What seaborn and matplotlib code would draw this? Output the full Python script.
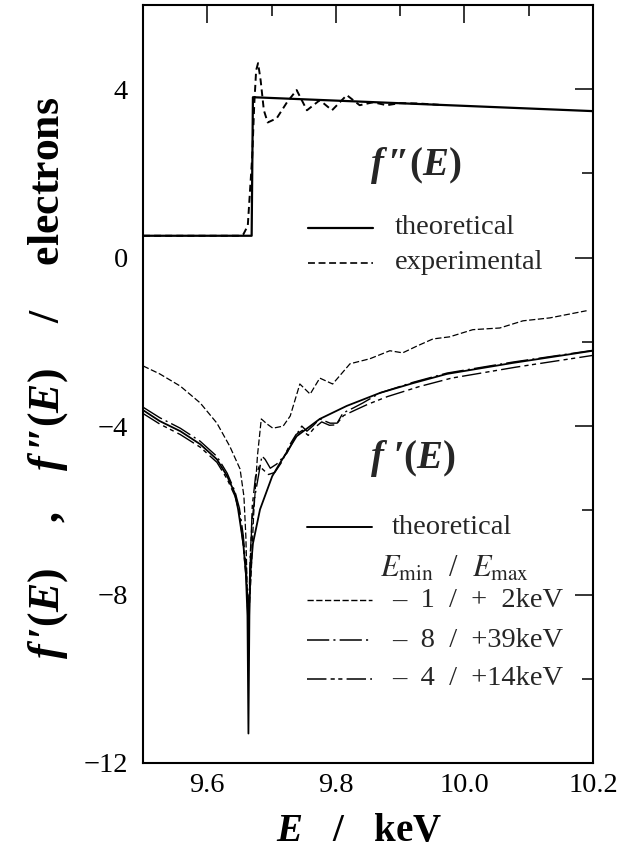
import matplotlib
matplotlib.use("Agg")
import matplotlib.pyplot as plt
import seaborn as sns

# ---- f''(E): theoretical step and measured absorption ----
fpp_theo_E = [9.500, 9.669, 9.671, 10.200]
fpp_theo_v = [0.52, 0.52, 3.81, 3.48]

fpp_exp_E = [9.500, 9.650, 9.656, 9.663, 9.666, 9.670, 9.673, 9.676, 9.679, 9.683,
             9.688, 9.694, 9.708, 9.724, 9.739, 9.755, 9.775, 9.794, 9.817, 9.837,
             9.858, 9.879, 9.900, 9.930, 9.960]
fpp_exp_v = [0.52, 0.52, 0.55, 0.76, 1.48, 2.43, 3.62, 4.45, 4.62, 4.21,
             3.50, 3.21, 3.31, 3.69, 3.98, 3.50, 3.74, 3.50, 3.86, 3.62,
             3.69, 3.62, 3.67, 3.66, 3.63]

# ---- f'(E): theoretical curve ----
fp_theo_E = [9.500, 9.526, 9.558, 9.589, 9.615, 9.631, 9.643, 9.648, 9.656, 9.660,
             9.6625, 9.664, 9.6655, 9.667, 9.671, 9.682, 9.701, 9.713, 9.739, 9.775,
             9.817, 9.869, 9.920, 9.973, 10.075, 10.200]
fp_theo_v = [-3.62, -3.88, -4.12, -4.43, -4.79, -5.19, -5.60, -5.98, -6.79, -7.50,
             -8.50, -11.30, -8.50, -7.50, -6.79, -5.98, -5.19, -4.88, -4.24, -3.83,
             -3.52, -3.21, -2.98, -2.76, -2.50, -2.21]

# ---- f'(E) from Kramers-Kronig, Emin/Emax = -1/+2 keV ----
fp_k2_E = [9.500, 9.526, 9.558, 9.589, 9.615, 9.635, 9.651, 9.657, 9.660, 9.662,
           9.665, 9.668, 9.672, 9.678, 9.684, 9.693, 9.702, 9.718, 9.729, 9.744,
           9.760, 9.775, 9.795, 9.822, 9.853, 9.884, 9.904, 9.926, 9.951, 9.977,
           10.013, 10.055, 10.091, 10.133, 10.190]
fp_k2_v = [-2.57, -2.76, -3.05, -3.45, -3.93, -4.48, -5.02, -5.67, -6.62, -7.80,
           -8.40, -7.60, -6.14, -4.71, -3.83, -3.95, -4.05, -4.00, -3.76, -3.00,
           -3.24, -2.86, -3.00, -2.52, -2.40, -2.21, -2.26, -2.10, -1.93, -1.88,
           -1.71, -1.67, -1.50, -1.43, -1.26]

# ---- Emin/Emax = -8/+39 keV ----
fp_k39_E = [9.500, 9.526, 9.558, 9.589, 9.615, 9.631, 9.643, 9.650, 9.656, 9.661,
            9.664, 9.667, 9.670, 9.674, 9.685, 9.690, 9.698, 9.708, 9.724, 9.740,
            9.747, 9.755, 9.764, 9.775, 9.791, 9.802, 9.811, 9.827, 9.842, 9.869,
            9.920, 9.973, 10.075, 10.200]
fp_k39_v = [-3.55, -3.80, -4.05, -4.36, -4.72, -5.12, -5.55, -5.95, -6.60, -7.50,
            -8.60, -7.00, -6.20, -5.67, -4.71, -4.79, -5.00, -4.90, -4.64, -4.17,
            -4.00, -4.12, -4.00, -3.83, -3.93, -3.93, -3.69, -3.57, -3.45, -3.21,
            -2.96, -2.74, -2.48, -2.20]

# ---- Emin/Emax = -4/+14 keV ----
fp_k14_E = [9.500, 9.526, 9.558, 9.589, 9.615, 9.631, 9.643, 9.650, 9.656, 9.661,
            9.664, 9.667, 9.670, 9.675, 9.681, 9.688, 9.695, 9.705, 9.716, 9.728,
            9.738, 9.748, 9.757, 9.766, 9.778, 9.790, 9.800, 9.812, 9.830, 9.850,
            9.880, 9.930, 9.980, 10.080, 10.200]
fp_k14_v = [-3.70, -3.95, -4.20, -4.50, -4.86, -5.26, -5.66, -6.05, -6.85, -7.70,
            -8.80, -7.20, -5.90, -5.20, -4.95, -5.05, -5.15, -5.10, -4.85, -4.45,
            -4.20, -4.10, -4.22, -4.05, -3.90, -3.98, -3.97, -3.75, -3.62, -3.48,
            -3.30, -3.06, -2.86, -2.60, -2.32]

x_major = [9.6, 9.8, 10.0, 10.2]
x_major_labels = ["9.6", "9.8", "10.0", "10.2"]
x_minor = [9.7, 9.9, 10.1]
y_major = [-12, -8, -4, 0, 4]
y_major_labels = ["\u221212", "\u22128", "\u22124", "0", "4"]
y_minor = [-10, -6, -2, 2]

sns.set_theme(style="white")
plt.rcParams["font.family"] = ["Liberation Serif", "DejaVu Serif"]
plt.rcParams["mathtext.fontset"] = "custom"
plt.rcParams["mathtext.rm"] = "Liberation Serif:bold"
plt.rcParams["mathtext.it"] = "Liberation Serif:italic:bold"
plt.rcParams["mathtext.bf"] = "Liberation Serif:bold"
plt.rcParams["lines.scale_dashes"] = False

fig = plt.figure(figsize=(6.26, 8.5), dpi=100)
ax = fig.add_axes([143 / 626, 1 - 763 / 850, 450 / 626, 758 / 850])

ls_exp = (0, (5.0, 3.0))
ls_k2 = (0, (4.5, 1.8))
ls_k39 = (0, (16, 3, 1.5, 3))
ls_k14 = (0, (14, 3, 3, 2.5, 3, 3))

def curve(E, v, lw, ls):
    sns.lineplot(x=E, y=v, ax=ax, color="black", linewidth=lw, linestyle=ls,
                 estimator=None, sort=False)

curve(fpp_theo_E, fpp_theo_v, 1.6, "-")
curve(fpp_exp_E, fpp_exp_v, 1.4, ls_exp)
curve(fp_k2_E, fp_k2_v, 0.9, ls_k2)
curve(fp_k39_E, fp_k39_v, 1.0, ls_k39)
curve(fp_k14_E, fp_k14_v, 1.0, ls_k14)
curve(fp_theo_E, fp_theo_v, 1.3, "-")

ax.set_xlim(9.5, 10.2)
ax.set_ylim(-12, 6)
ax.set_xticks(x_major)
ax.set_xticklabels(x_major_labels)
ax.set_xticks(x_minor, minor=True)
ax.set_yticks(y_major)
ax.set_yticklabels(y_major_labels)
ax.set_yticks(y_minor, minor=True)
ax.tick_params(which="both", direction="in", top=True, right=True,
               color="black", width=1.1, labelsize=20.5, labelcolor="black")
ax.tick_params(which="major", length=13)
ax.tick_params(which="minor", length=8)
ax.tick_params(axis="x", which="major", pad=7)
ax.tick_params(axis="y", which="major", pad=11)
for s in ax.spines.values():
    s.set_color("black")
    s.set_linewidth(1.5)

ax.set_xlabel(r"$E\ \ \ /\ \ \ \mathrm{keV}$", fontsize=28, color="black")
ax.xaxis.set_label_coords(0.48, -0.066)
ax.set_ylabel("$f\\,\u2032(E)\\ \\ \\ \\ ,\\ \\ \\ f\\,\u2033(E)\\ \\ \\ \\ /\\ \\ \\ \\ \\mathrm{electrons}$",
              fontsize=31.5, color="black")
ax.yaxis.set_label_coords(-0.163, 0.508)

# curve names
ax.text(9.925, 2.20, "$f\\,\u2033(E)$", fontsize=28, ha="center", va="center")
ax.text(9.920, -4.78, "$f\\ \u2032(E)$", fontsize=28, ha="center", va="center")

# legend for f''
T = ax.transAxes
fs = 20.5
ax.plot([0.367, 0.511], [0.706, 0.706], transform=T, color="black", lw=1.6)
ax.text(0.56, 0.706, "theoretical", transform=T, fontsize=fs, va="center")
ax.plot([0.367, 0.511], [0.660, 0.660], transform=T, color="black", lw=1.2,
        linestyle=(0, (5.0, 2.6)))
ax.text(0.56, 0.660, "experimental", transform=T, fontsize=fs, va="center")

# legend for f'
ax.plot([0.364, 0.509], [0.311, 0.311], transform=T, color="black", lw=1.4)
ax.text(0.553, 0.311, "theoretical", transform=T, fontsize=fs, va="center")
ax.text(0.527, 0.256, r"$E_{\mathrm{min}}$  /  $E_{\mathrm{max}}$", transform=T,
        fontsize=22, va="center", math_fontfamily="stix")
ax.plot([0.364, 0.509], [0.215, 0.215], transform=T, color="black", lw=1.0,
        linestyle=ls_k2)
ax.text(0.553, 0.215, "\u2013  1  /  +  2keV", transform=T, fontsize=fs, va="center")
ax.plot([0.364, 0.509], [0.162, 0.162], transform=T, color="black", lw=1.1,
        linestyle=ls_k39)
ax.text(0.553, 0.162, "\u2013  8  /  +39keV", transform=T, fontsize=fs, va="center")
ax.plot([0.364, 0.509], [0.111, 0.111], transform=T, color="black", lw=1.1,
        linestyle=ls_k14)
ax.text(0.553, 0.111, "\u2013  4  /  +14keV", transform=T, fontsize=fs, va="center")

fig.savefig("out.png", dpi=100, facecolor="white")
